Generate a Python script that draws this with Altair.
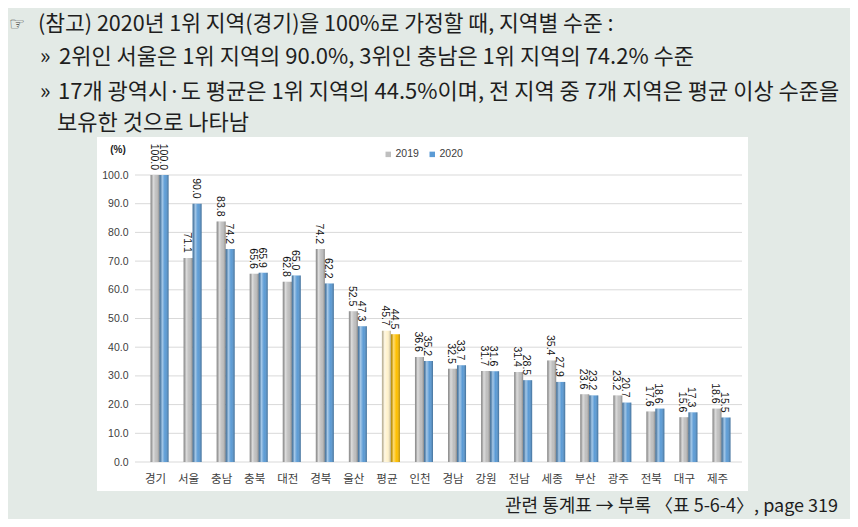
import altair as alt
import pandas as pd

regions = ['경기', '서울', '충남', '충북', '대전', '경북', '울산', '평균', '인천',
           '경남', '강원', '전남', '세종', '부산', '광주', '전북', '대구', '제주']
v2019 = [100.0, 71.1, 83.8, 65.6, 62.8, 74.2, 52.5, 45.7, 36.6,
         32.5, 31.7, 31.4, 35.4, 23.6, 23.2, 17.6, 15.6, 18.6]
v2020 = [100.0, 90.0, 74.2, 65.9, 65.0, 62.2, 47.3, 44.5, 35.2,
         33.7, 31.6, 28.5, 27.9, 23.2, 20.7, 18.6, 17.3, 15.5]
years = ['2019', '2020']
y_ticks = [0, 10, 20, 30, 40, 50, 60, 70, 80, 90, 100]

header_1 = '(참고) 2020년 1위 지역(경기)을 100%로 가정할 때, 지역별 수준 :'
header_2 = '2위인 서울은 1위 지역의 90.0%, 3위인 충남은 1위 지역의 74.2% 수준'
header_3 = '17개 광역시·도 평균은 1위 지역의 44.5%이며, 전 지역 중 7개 지역은 평균 이상 수준을'
header_4 = '보유한 것으로 나타남'
footer = '관련 통계표 → 부록 〈표 5-6-4〉, page 319'

rows = []
for r, a, b in zip(regions, v2019, v2020):
    rows.append({'region': r, 'year': '2019', 'value': a})
    rows.append({'region': r, 'year': '2020', 'value': b})
df = pd.DataFrame(rows)

KFONT = 'Noto Sans CJK KR'
NFONT = 'Liberation Sans'

x_enc = alt.X('region:N', sort=regions,
              scale=alt.Scale(paddingInner=0.455, paddingOuter=0.2275),
              axis=alt.Axis(title=None, labelAngle=0, ticks=False, domain=False,
                            labelPadding=11, labelOffset=-4, labelFont=KFONT,
                            labelFontSize=11.5, labelColor='#404040', zindex=2))
xo_enc = alt.XOffset('year:N', sort=years, scale=alt.Scale(paddingInner=0, paddingOuter=0))
y_scale = alt.Scale(domain=[0, 100], nice=False)
y_axis = alt.Axis(values=y_ticks, format='.1f', title=None, grid=False,
                  domain=False, ticks=False, labelPadding=15, zindex=2,
                  labelFont=NFONT, labelFontSize=10.5, labelColor='#404040')
y_enc = alt.Y('value:Q', scale=y_scale, axis=y_axis)

one = pd.DataFrame({'a': [0]})

panel = alt.Chart(one).mark_rect(color='white').encode(
    x=alt.value(-46), x2=alt.value(605), y=alt.value(-38), y2=alt.value(316))

grid = alt.Chart(pd.DataFrame({'value': y_ticks})).mark_rule(color='#d9d9d9', strokeWidth=1).encode(
    y=y_enc, x=alt.value(-8), x2=alt.value(599))

bars_main = alt.Chart(df).transform_filter("datum.region !== '평균'").mark_bar().encode(
    x=x_enc, xOffset=xo_enc, y=y_enc,
    color=alt.Color('year:N', scale=alt.Scale(domain=years, range=['#bfbfbf', '#5b9bd5']),
                    legend=alt.Legend(title=None, orient='none', legendX=240, legendY=-26,
                                      direction='horizontal', symbolType='square',
                                      symbolSize=30, symbolStrokeWidth=0,
                                      labelFont=NFONT, labelFontSize=10.5,
                                      labelColor='#404040', columnPadding=8,
                                      labelOffset=2, padding=0)))

bars_avg = alt.Chart(df).transform_filter("datum.region === '평균'").mark_bar().encode(
    x=x_enc, xOffset=xo_enc, y=y_enc,
    color=alt.Color('year:N', scale=alt.Scale(domain=years, range=['#fff2cc', '#ffc000']),
                    legend=None))

shade = alt.Gradient(
    gradient='linear', x1=0, x2=1, y1=0, y2=0,
    stops=[alt.GradientStop(offset=0, color='rgba(0,0,0,0.28)'),
           alt.GradientStop(offset=0.3, color='rgba(255,255,255,0.45)'),
           alt.GradientStop(offset=0.6, color='rgba(255,255,255,0.0)'),
           alt.GradientStop(offset=1, color='rgba(0,0,0,0.3)')])
bars_shade = alt.Chart(df).mark_bar(color=shade).encode(x=x_enc, xOffset=xo_enc, y=y_enc)

labels = alt.Chart(df).mark_text(angle=90, align='right', baseline='middle', dx=-5, dy=1.5,
                                 font=NFONT, fontSize=10.5, color='#111111').encode(
    x=x_enc, xOffset=xo_enc, y=y_enc, text=alt.Text('value:Q', format='.1f'))

def txt(s, x, y, size, font=KFONT, color='#1e1e1e', weight='normal', align='left'):
    return alt.Chart(one).mark_text(text=s, font=font, fontSize=size, color=color,
                                    fontWeight=weight, align=align, baseline='middle').encode(
        x=alt.value(x), y=alt.value(y))

OX, OY = 143, 175
texts = [
    txt('☞', 9 - OX, 25 - OY, 18, font='DejaVu Sans', color='#444444'),
    txt(header_1, 38 - OX, 25 - OY, 21.5),
    txt('»', 40 - OX, 57 - OY, 22),
    txt(header_2, 59 - OX, 57 - OY, 22),
    txt('»', 40 - OX, 92 - OY, 22),
    txt(header_3, 58 - OX, 92 - OY, 22),
    txt(header_4, 57 - OX, 123 - OY, 22),
    txt(footer, 838 - OX, 507 - OY, 18, align='right'),
    txt('(%)', 118 - OX, 150 - OY, 10, font=NFONT, color='#222222', weight='bold', align='center'),
]

chart = alt.layer(panel, grid, bars_main, bars_avg, bars_shade, labels, *texts).resolve_scale(
    color='independent'
).properties(
    width=595, height=287,
    autosize=alt.AutoSizeParams(type='none'),
    padding={'left': 135, 'top': 167, 'right': 112, 'bottom': 57},
    background='#e3eae6'
).configure_view(stroke=None)

chart.save('out.html', embed_options={'renderer': 'svg', 'actions': False})
